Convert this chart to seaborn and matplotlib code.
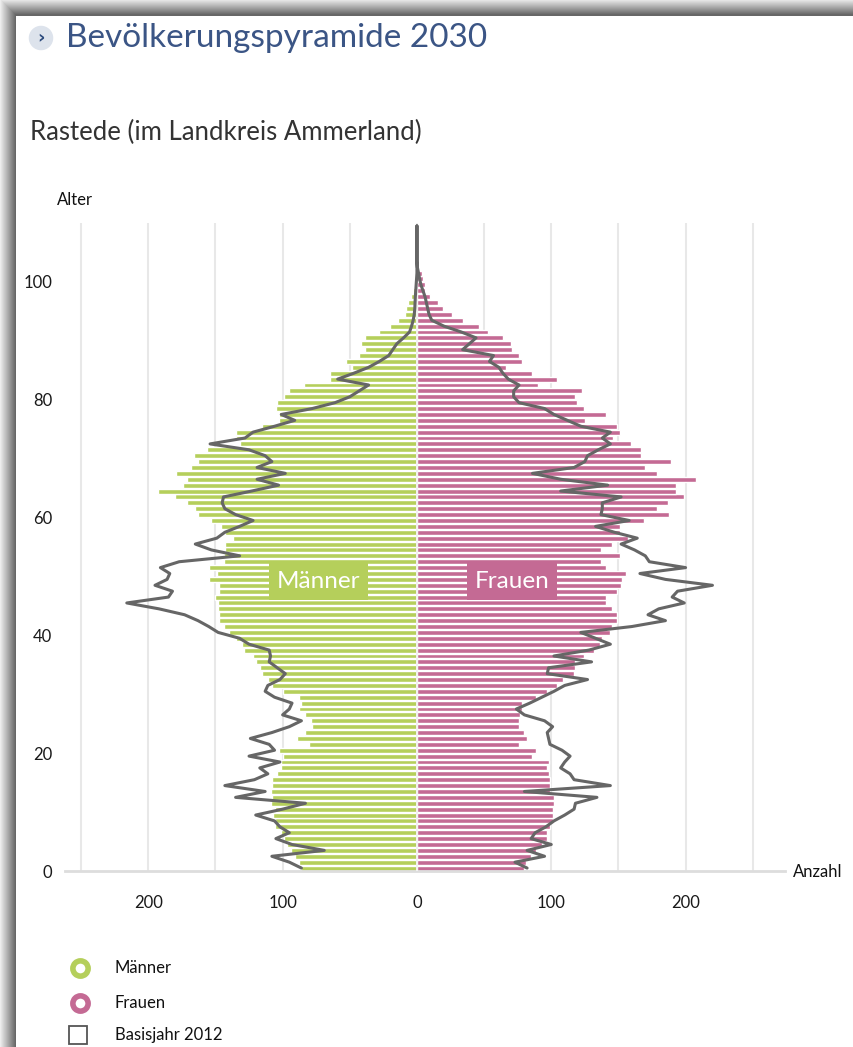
import numpy as np
import matplotlib
matplotlib.use("Agg")
import matplotlib.pyplot as plt
import seaborn as sns
from matplotlib.lines import Line2D
from matplotlib.patches import Rectangle

# --------------------------------------------
# Data: Rastede, population 2030 (bars) and base year 2012 (line)
# --------------------------------------------

ages = np.arange(0, 102)          # bar ages 0..101
line_ages = np.arange(0, 110)     # outline ages 0..109

men_2030 = [
    86, 88, 91, 94, 97, 99, 101, 106, 106, 107,
    106, 109, 108, 109, 108, 108, 104, 101, 101, 100,
    103, 80, 89, 83, 78, 79, 83, 88, 86, 88,
    100, 108, 111, 115, 117, 120, 122, 129, 130, 135,
    140, 144, 147, 147, 148, 148, 150, 147, 147, 155,
    149, 155, 144, 144, 143, 143, 137, 143, 146, 153,
    163, 165, 171, 180, 193, 174, 171, 179, 168, 163,
    166, 156, 132, 135, 135, 115, 103, 103, 105, 104,
    99, 95, 84, 65, 65, 48, 53, 43, 39, 42,
    39, 28, 20, 14, 9, 8, 6.5, 4.5, 3, 2,
    0, 0,
]

women_2030 = [
    80, 81, 85, 89, 93, 97, 97, 99, 101, 101,
    101, 102, 102, 99, 99, 99, 98, 97, 98, 86,
    89, 76, 82, 80, 76, 76, 77, 78, 78, 89,
    97, 104, 109, 117, 118, 118, 124, 132, 136, 138,
    144, 145, 149, 149, 145, 141, 141, 149, 152, 153,
    156, 141, 137, 151, 137, 145, 157, 151, 151, 169,
    188, 179, 187, 199, 193, 193, 208, 179, 170, 189,
    167, 167, 159, 146, 151, 149, 125, 141, 124, 119,
    118, 123, 90, 104, 86, 66, 78, 76, 71, 70,
    64, 53, 46, 34, 26, 19.5, 16, 9.6, 6.3, 6.3,
    4.8, 3.8,
]

men_2012 = [
    86, 95, 108, 69, 93, 105, 95, 102, 106, 120,
    100, 83, 135, 113, 143, 121, 111, 117, 102, 125,
    106, 110, 124, 108, 95, 86, 100, 95, 93, 106,
    113, 111, 102, 98, 104, 110, 109, 110, 125, 132,
    148, 155, 163, 173, 192, 216, 185, 182, 195, 186,
    184, 191, 177, 132, 153, 165, 149, 143, 132, 122,
    135, 143, 145, 144, 123, 103, 119, 98, 119, 108,
    113, 125, 154, 128, 122, 106, 91, 101, 78, 61,
    50, 43, 36, 59, 47, 36, 28, 21, 18, 15,
    10, 5.5, 4, 2.8, 2, 1.6, 1.4, 1.2, 0.9, 0.6,
    0.3, 0, 0, 0, 0, 0, 0, 0, 0, 0,
]

women_2012 = [
    82, 73, 95, 82, 100, 85, 88, 96, 102, 110,
    117, 118, 134, 80, 144, 117, 114, 107, 110, 114,
    108, 99, 98, 97, 101, 95, 80, 74, 84, 93,
    102, 110, 127, 97, 98, 130, 102, 128, 144, 133,
    122, 160, 185, 172, 180, 199, 190, 194, 220, 185,
    166, 200, 173, 170, 162, 152, 164, 147, 133, 158,
    137, 138, 138, 152, 107, 142, 107, 86, 117, 125,
    127, 135, 144, 138, 144, 122, 112, 102, 95, 76,
    72, 72, 76, 68, 64, 61, 54, 57, 34, 39,
    44, 33, 20, 11, 9, 8, 7, 6, 4.5, 3,
    2, 1.2, 0.3, 0, 0, 0, 0, 0, 0, 0,
]

x_ticks = [-250, -200, -150, -100, -50, 0, 50, 100, 150, 200, 250]
y_ticks = [0, 20, 40, 60, 80, 100]

GREEN = "#b5cf5b"
PINK = "#c46a94"
GRAY_LINE = "#666666"

W, H = 854, 1047


def fx(px):
    return px / W


def fy(py):
    return 1 - py / H


# --------------------------------------------
# Figure
# --------------------------------------------

sns.set_style("white")
plt.rcParams["font.family"] = ["Lato", "DejaVu Sans"]

fig = plt.figure(figsize=(W / 100, H / 100), dpi=100)

# drop shadow frame on top and left
for i in range(16):
    shade = 0.93 - 0.035 * i
    fig.add_artist(Rectangle((fx(i), 0), 1 / W + 0.0005, fy(i), transform=fig.transFigure,
                             facecolor=(shade, shade, shade), edgecolor="none", zorder=0))
    fig.add_artist(Rectangle((fx(i), fy(i + 1)), 1 - fx(i), 1 / H + 0.0005, transform=fig.transFigure,
                             facecolor=(shade, shade, shade), edgecolor="none", zorder=0))

ax = fig.add_axes([fx(65), fy(871), fx(785) - fx(65), fy(223) - fy(871)])

y_pos = ages + 0.5

sns.barplot(x=-np.array(men_2030), y=y_pos, orient="h", native_scale=True,
            color=GREEN, saturation=1, width=0.84, errorbar=None, ax=ax, zorder=2)
sns.barplot(x=np.array(women_2030), y=y_pos, orient="h", native_scale=True,
            color=PINK, saturation=1, width=0.84, errorbar=None, ax=ax, zorder=2)

ax.axvline(0, color="#f2f2f2", lw=1.4, zorder=3)

# base year 2012 outline as one path: up the men's side, down the women's side
line_y = np.concatenate([line_ages + 0.5, (line_ages + 0.5)[::-1]])
line_x = np.concatenate([-np.array(men_2012), np.array(women_2012)[::-1]])
sns.lineplot(x=line_x, y=line_y, sort=False, estimator=None,
             color=GRAY_LINE, lw=2.2, ax=ax, zorder=5)

# Männer / Frauen labels
ax.text(-73, 49.1, "Männer", ha="center", va="center", color="white", fontsize=17.5,
        bbox=dict(boxstyle="square,pad=0.32", fc=GREEN, ec="none"), zorder=4)
ax.text(71, 49.1, "Frauen", ha="center", va="center", color="white", fontsize=17.5,
        bbox=dict(boxstyle="square,pad=0.32", fc=PINK, ec="none"), zorder=4)

ax.set_xlim(-262, 274)
ax.set_ylim(0, 110)
ax.set_xticks(x_ticks)
ax.set_xticklabels([str(abs(v)) if v % 100 == 0 and abs(v) < 250 else "" for v in x_ticks])
ax.set_yticks(y_ticks)
ax.set_yticklabels([str(v) for v in y_ticks])
ax.set_xlabel("")
ax.set_ylabel("")
ax.tick_params(axis="x", length=0, pad=17, labelsize=12, labelcolor="#1a1a1a")
ax.tick_params(axis="y", length=0, pad=9, labelsize=12, labelcolor="#1a1a1a")
ax.grid(axis="x", color="#e8e8e8", lw=1.5, zorder=0)
ax.grid(axis="y", visible=False)
ax.set_axisbelow(True)
for side in ["top", "right", "left"]:
    ax.spines[side].set_visible(False)
ax.spines["bottom"].set_color("#dddddd")
ax.spines["bottom"].set_linewidth(2)

# titles and axis names
fig.text(fx(41), fy(38), "›", ha="center", va="center", fontsize=13, fontweight="bold",
         color="#2b4a7d", family="DejaVu Sans",
         bbox=dict(boxstyle="circle,pad=0.18", fc="#dde3ec", ec="none"))
fig.text(fx(66), fy(38), "Bevölkerungspyramide 2030", ha="left", va="center",
         fontsize=24, color="#3b5585")
fig.text(fx(30), fy(132), "Rastede (im Landkreis Ammerland)", ha="left", va="center",
         fontsize=18.5, color="#333333")
fig.text(fx(57), fy(200), "Alter", ha="left", va="center", fontsize=12, color="#111111")
fig.text(fx(793), fy(872), "Anzahl", ha="left", va="center", fontsize=12, color="#111111")

# legend
legend_items = [("Männer", GREEN, "o", 968), ("Frauen", PINK, "o", 1003), ("Basisjahr 2012", "#555555", "s", 1035)]
for label, col, mk, py in legend_items:
    if mk == "o":
        fig.add_artist(Line2D([fx(80)], [fy(py)], marker="o", markersize=11, markeredgewidth=4,
                              markerfacecolor="white", markeredgecolor=col, linestyle="none",
                              transform=fig.transFigure))
    else:
        fig.add_artist(Line2D([fx(78)], [fy(py)], marker="s", markersize=13, markeredgewidth=1.3,
                              markerfacecolor="white", markeredgecolor=col, linestyle="none",
                              transform=fig.transFigure))
    fig.text(fx(115), fy(py), label, ha="left", va="center", fontsize=12, color="#111111")

fig.savefig("out.png", dpi=100)
